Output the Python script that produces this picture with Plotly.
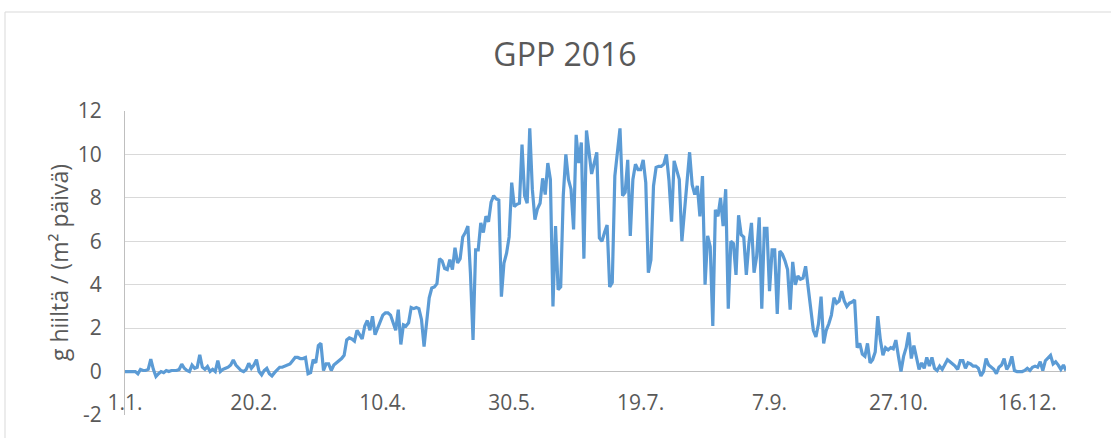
import pandas as pd
import plotly.graph_objects as go

# Daily GPP 2016 (g C / (m2 day)), month by month
jan = [0.0, 0.0, 0.0, 0.0, 0.0, -0.1, 0.1, 0.05, 0.05, 0.1,
       0.57, 0.1, -0.23, -0.1, 0.0, -0.05, 0.05, 0.0, 0.05, 0.05,
       0.05, 0.1, 0.34, 0.15, 0.05, 0.0, 0.3, 0.15, 0.2, 0.77, 0.2]
feb = [0.1, 0.23, 0.0, 0.1, 0.0, 0.5, 0.0, 0.1, 0.15,
       0.2, 0.3, 0.54, 0.3, 0.15, 0.05, 0.0, 0.1, 0.38, 0.15,
       0.3, 0.55, 0.0, -0.15, 0.05, 0.15, -0.1, -0.2, -0.05, 0.1]
mar = [0.2, 0.2, 0.25, 0.3, 0.35, 0.5, 0.65, 0.65, 0.6, 0.6,
       0.65, -0.1, -0.05, 0.55, 0.4, 1.2, 1.3, 0.05, 0.35, 0.35,
       0.05, 0.3, 0.4, 0.5, 0.6, 0.75, 1.46, 1.55, 1.5, 1.4, 1.9]
apr = [1.7, 1.5, 2.1, 2.35, 1.9, 2.55, 1.7, 2.0, 2.25,
       2.6, 2.7, 2.7, 2.6, 2.25, 1.9, 2.85, 1.25, 2.15, 2.1,
       2.25, 2.95, 2.9, 2.95, 2.9, 2.4, 1.15, 2.45, 3.4, 3.85, 3.9]
may = [4.05, 5.2, 5.1, 4.75, 4.7, 5.15, 4.7, 5.7, 5.0,
       5.2, 6.2, 6.4, 6.7, 4.5, 1.46, 5.6, 5.6, 6.85, 6.4,
       7.15, 6.9, 7.8, 8.1, 7.95, 7.9, 3.45, 5.0, 5.45, 6.2,
       8.7, 7.6]
jun = [7.7, 7.75, 10.45, 8.1, 7.75, 11.2, 8.4, 7.0,
       7.5, 7.75, 8.9, 8.15, 9.6, 8.85, 3.0, 6.7, 3.77, 3.9,
       8.1, 10.0, 8.85, 8.4, 6.55, 10.9, 9.6, 10.55, 5.2, 11.1,
       10.2, 9.1]
jul = [9.6, 10.1, 6.15, 6.0, 6.4, 6.75, 3.9, 4.1,
       9.0, 10.1, 11.2, 8.1, 8.25, 9.75, 6.25, 8.85, 9.55, 9.3,
       9.3, 9.75, 8.7, 4.55, 5.15, 8.55, 9.4, 9.45, 9.45, 9.55,
       10.0, 8.8, 6.9]
aug = [9.7, 9.3, 8.85, 6.0, 7.3, 8.75, 10.1,
       8.6, 8.15, 8.55, 7.15, 9.0, 4.0, 6.25, 5.75, 2.1, 7.45,
       7.15, 8.0, 6.7, 8.4, 2.9, 6.0, 5.9, 4.45, 7.2, 6.3,
       6.2, 4.45, 5.9, 6.85]
sep = [4.55, 5.3, 7.1, 2.9, 6.6, 6.6,
       3.7, 5.6, 5.6, 2.65, 5.55, 5.4, 5.1, 4.7, 2.85, 5.05,
       4.0, 4.4, 4.25, 4.3, 4.85, 3.9, 2.85, 1.9, 1.6, 2.2,
       3.45, 1.3, 1.9, 2.2]
oct_ = [2.6, 3.4, 3.15, 3.25, 3.7, 3.25,
        3.0, 3.15, 3.2, 3.3, 1.1, 1.3, 0.8, 0.7, 1.3, 0.4,
        0.55, 0.9, 2.55, 1.45, 0.75, 1.1, 1.0, 1.1, 1.05, 1.45,
        0.7, 0.0, 0.7, 1.1, 1.8]
nov = [0.6, 1.2, 0.55, 0.1, 0.4,
       0.15, 0.65, 0.25, 0.65, 0.15, 0.05, 0.25, 0.1, 0.3, 0.55,
       0.45, 0.35, 0.25, 0.1, 0.5, 0.5, 0.15, 0.4, 0.35, 0.25,
       0.25, 0.15, -0.2, 0.0, 0.6]
dec = [0.3, 0.2, 0.1, -0.1, 0.2,
       0.3, 0.6, 0.1, 0.3, 0.7, 0.05, 0.0, 0.0, 0.0, 0.05,
       0.15, 0.05, 0.2, 0.25, 0.2, 0.45, 0.05, 0.5, 0.65, 0.75,
       0.35, 0.45, 0.3, 0.1, 0.3, 0.05]

gpp = jan + feb + mar + apr + may + jun + jul + aug + sep + oct_ + nov + dec
if len(gpp) != 366:
    raise ValueError("length %d" % len(gpp))

dates = pd.date_range("2016-01-01", periods=len(gpp), freq="D")

tick_dates = ["2016-01-01", "2016-02-20", "2016-04-10", "2016-05-30",
              "2016-07-19", "2016-09-07", "2016-10-27", "2016-12-16"]
tick_labels = ["1.1.", "20.2.", "10.4.", "30.5.", "19.7.", "7.9.", "27.10.", "16.12."]
y_ticks = [-2, 0, 2, 4, 6, 8, 10, 12]
y_tick_labels = ["-2", "0", "2", "4", "6", "8", "10", "12"]

title_text = "GPP 2016"
y_title = "g hiiltä / (m² päivä)"

W, H = 1111, 438
L, R, T, B = 125, 45, 111, 23
PW, PH = W - L - R, H - T - B
FONT = "Open Sans, sans-serif"
TXT = "#595959"


def px_x(px):
    return (px - L) / PW


def px_y(py):
    return (H - B - py) / PH


fig = go.Figure(
    go.Scatter(x=dates, y=gpp, mode="lines",
               line=dict(color="#5b9bd5", width=3.2), hoverinfo="skip")
)

fig.update_layout(
    width=W, height=H,
    margin=dict(l=L, r=R, t=T, b=B, autoexpand=False),
    paper_bgcolor="white", plot_bgcolor="white", showlegend=False,
    title=dict(text=title_text, x=565 / W, xref="container", xanchor="center",
               y=1 - 55 / H, yref="container", yanchor="middle",
               font=dict(family=FONT, size=32, color=TXT)),
    xaxis=dict(range=[dates[0], dates[-1]], tickmode="array",
               tickvals=tick_dates, ticktext=tick_labels,
               showgrid=False, zeroline=False, showline=False,
               anchor="free", position=2 / 14, ticks="",
               ticklabelstandoff=16,
               tickfont=dict(family=FONT, size=21, color=TXT)),
    yaxis=dict(range=[-2, 12], tickmode="array", tickvals=y_ticks,
               ticktext=y_tick_labels,
               showgrid=True, gridcolor="#d9d9d9", gridwidth=1,
               zeroline=True, zerolinecolor="#bfbfbf", zerolinewidth=1,
               showline=True, linecolor="#bfbfbf", linewidth=1,
               ticks="", ticklabelstandoff=18,
               tickfont=dict(family=FONT, size=21, color=TXT)),
    annotations=[dict(text=y_title, textangle=-90, showarrow=False,
                      xref="paper", yref="paper", x=px_x(59), y=0.5,
                      xanchor="center", yanchor="middle",
                      font=dict(family=FONT, size=23, color=TXT))],
    shapes=[dict(type="rect", xref="paper", yref="paper",
                 x0=px_x(5), x1=px_x(1120), y0=px_y(445), y1=px_y(12),
                 line=dict(color="#d9d9d9", width=1), fillcolor="rgba(0,0,0,0)",
                 layer="below")],
)

fig.write_html("out.html",
               config={"displayModeBar": False},
               post_script="document.body.style.margin='0';document.body.style.padding='0';")
